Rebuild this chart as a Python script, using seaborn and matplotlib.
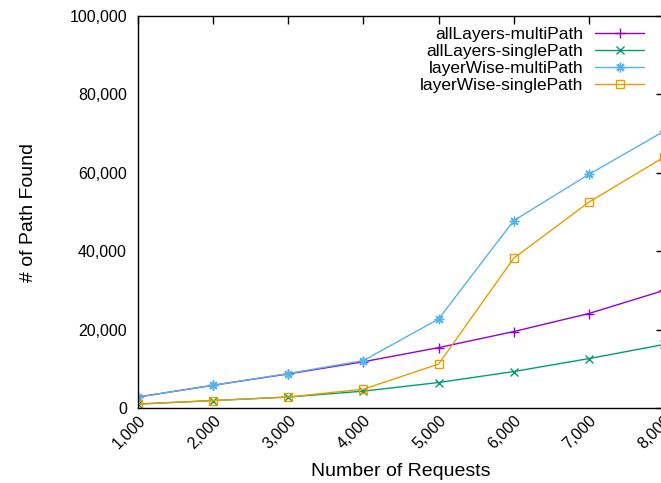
"""
Number of paths found vs number of requests (gnuplot-style line chart)
"""

import matplotlib
matplotlib.use("Agg")
import matplotlib.pyplot as plt
from matplotlib.ticker import FuncFormatter
import seaborn as sns

# data
requests = [1000, 2000, 3000, 4000, 5000, 6000, 7000, 8000]
all_layers_multi = [2800, 5800, 8700, 11800, 15400, 19500, 24100, 30000]
all_layers_single = [1000, 1900, 2800, 4300, 6500, 9300, 12600, 16200]
layer_wise_multi = [2800, 5800, 8800, 12100, 22700, 47800, 59600, 70600]
layer_wise_single = [1000, 1900, 2800, 4800, 11200, 38200, 52500, 64000]

series_names = ["allLayers-multiPath", "allLayers-singlePath",
                "layerWise-multiPath", "layerWise-singlePath"]
series_values = [all_layers_multi, all_layers_single, layer_wise_multi, layer_wise_single]
colors = ["#9400d3", "#009e73", "#56b4e9", "#e69f00"]
markers = ["+", "x", (8, 2, 0), "s"]
marker_sizes = [7, 6, 7, 6]

x_ticks = [1000, 2000, 3000, 4000, 5000, 6000, 7000, 8000]
y_ticks = [0, 20000, 40000, 60000, 80000, 100000]

sns.set_theme(style="white")
plt.rcParams["font.family"] = ["Liberation Sans", "DejaVu Sans"]
plt.rcParams["axes.edgecolor"] = "black"
plt.rcParams["axes.labelcolor"] = "black"
plt.rcParams["text.color"] = "black"
plt.rcParams["axes.linewidth"] = 1.0

fig = plt.figure(figsize=(6.61, 4.83), dpi=100)
ax = fig.add_axes([138 / 661, 75 / 483, 526 / 661, 392 / 483])

for name, vals, col, mk, ms in zip(series_names, series_values, colors, markers, marker_sizes):
    sns.lineplot(x=requests, y=vals, ax=ax, color=col, marker=mk, markersize=ms,
                 markeredgecolor=col, markerfacecolor="none", markeredgewidth=1.0,
                 linewidth=1.0, label=name)

ax.set_xlim(1000, 8000)
ax.set_ylim(0, 100000)
ax.set_xticks(x_ticks)
ax.set_yticks(y_ticks)
ax.xaxis.set_major_formatter(FuncFormatter(lambda v, p: f"{v:,.0f}"))
ax.yaxis.set_major_formatter(FuncFormatter(lambda v, p: f"{v:,.0f}"))
ax.tick_params(axis="both", which="major", direction="in", length=6, width=1,
               top=True, right=True, labelsize=11.5, colors="black")
ax.tick_params(axis="y", pad=8)
for lbl in ax.get_xticklabels():
    lbl.set_rotation(45)
    lbl.set_ha("right")
    lbl.set_va("top")
    lbl.set_rotation_mode("anchor")
for s in ax.spines.values():
    s.set_visible(True)
    s.set_color("black")

ax.set_xlabel("Number of Requests", fontsize=14, labelpad=8, color="black")
ax.set_ylabel("# of Path Found", fontsize=14, labelpad=23, color="black")

leg = ax.legend(loc="upper right", bbox_to_anchor=(0.962, 0.972), frameon=False,
                markerfirst=False, fontsize=12.5, handlelength=2.8,
                handletextpad=0.7, labelspacing=0.1, borderpad=0, borderaxespad=0)
for t in leg.get_texts():
    t.set_color("black")

fig.savefig("out.png", dpi=100)
plt.close(fig)
